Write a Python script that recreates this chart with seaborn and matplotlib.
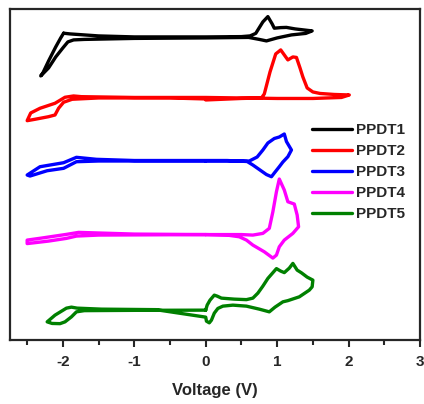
import numpy as np
import pandas as pd
import matplotlib
matplotlib.use('Agg')
import matplotlib.pyplot as plt
import seaborn as sns

# cyclic voltammograms (current in arbitrary, offset units)
v_ppdt1 = [-1.99, -1.9, -1.5, -1.0, 0.0, 0.5, 0.62, 0.7, 0.8, 0.87, 0.93, 0.96, 1.05, 1.13, 1.25, 1.49,
           1.4, 1.2, 1.0, 0.85, 0.75, 0.6, 0.0, -1.0, -1.7, -1.85, -1.93, -2.0, -2.1, -2.2, -2.31,
           -2.28, -2.2, -2.1, -2.03, -1.99]
i_ppdt1 = [306.7, 306, 304, 303, 303, 303.3, 304, 306.5, 318, 323.3, 316, 311.7, 312.3, 312.5, 311, 309,
           306.5, 305, 302, 299, 300.5, 302.5, 302, 301.5, 300.5, 300, 298, 292, 283, 272, 264,
           267, 279, 293, 302, 306.7]

v_ppdt2 = [0.0, 0.5, 0.78, 0.82, 0.9, 0.98, 1.05, 1.1, 1.15, 1.22, 1.27, 1.32, 1.36, 1.42, 1.5, 1.6, 1.8, 2.01,
           1.9, 1.5, 1.0, 0.5, 0.0, -1.0, -1.74, -1.85, -1.97, -2.11, -2.32, -2.45, -2.5,
           -2.39, -2.2, -2.11, -2.06, -1.99, -1.87, -1.5, -0.5, 0.0]
i_ppdt2 = [240, 241.5, 242, 246, 268, 286, 290, 285, 280, 283, 282.5, 272, 263, 252, 248, 246.5, 245.5, 245,
           242.5, 241.5, 241.5, 242, 242.5, 242.5, 243.3, 244, 242.7, 236.7, 231.7, 227, 219.3,
           220.7, 223.3, 225, 231.7, 237.7, 240.7, 242, 242, 241]

v_ppdt3 = [0.0, 0.5, 0.61, 0.72, 0.8, 0.87, 0.96, 1.03, 1.1, 1.13, 1.2, 1.15, 1.08, 1.03, 0.96, 0.92,
           0.85, 0.78, 0.66, 0.58, 0.3, 0.0, -1.0, -1.53, -1.81, -1.99, -2.32, -2.5,
           -2.46, -2.22, -1.99, -1.9, -1.81, -1.5, 0.0]
i_ppdt3 = [179, 179, 179, 183, 190, 197, 201.5, 203, 206, 198.5, 190, 183.3, 178, 173.3, 167, 163.3,
           165.5, 169, 175, 178.5, 179.5, 179.5, 179.5, 180.7, 182.7, 177.3, 173.3, 165,
           164, 169.3, 171.7, 175, 178.3, 179, 179]

v_ppdt4 = [0.0, 0.5, 0.66, 0.8, 0.89, 0.94, 0.99, 1.03, 1.1, 1.15, 1.24, 1.28, 1.3, 1.22, 1.1, 1.03,
           0.99, 0.94, 0.82, 0.66, 0.57, 0.47, 0.3, 0.0, -1.0, -1.78, -1.95, -2.3, -2.5,
           -2.5, -2.2, -1.95, -1.81, -1.5, 0.0]
i_ppdt4 = [105.5, 105.5, 105, 106.7, 111.7, 128.3, 148.3, 161, 150, 138.3, 136, 125, 113.3, 106.7, 100, 93.3,
           85, 82, 88.3, 95, 100, 103.3, 105, 105.5, 106, 107.7, 105.7, 102, 100,
           96.5, 99, 101.7, 104, 105, 105.5]

v_ppdt5 = [0.0, 0.02, 0.06, 0.12, 0.16, 0.22, 0.4, 0.57, 0.66, 0.73, 0.8, 0.87, 0.99, 1.05, 1.1, 1.17,
           1.22, 1.28, 1.34, 1.42, 1.5, 1.49, 1.45, 1.31, 1.15, 1.08, 0.97, 0.89, 0.75, 0.57, 0.38,
           0.24, 0.17, 0.12, 0.08, 0.05, 0.01, 0.0, -0.7, -1.46, -1.8, -1.88, -1.95, -2.11, -2.2,
           -2.22, -2.15, -2.04, -1.97, -1.88, -1.81, -1.7, -1.0, 0.0]
i_ppdt5 = [30, 35, 40, 45, 44, 42, 41, 40.5, 42, 47, 54, 61.7, 71.5, 69, 67.5, 72,
           76.7, 70, 67.3, 63, 60, 53.3, 50, 43.3, 39.5, 38.3, 33, 28.3, 31, 34, 35,
           34, 31.7, 27, 20, 17.3, 19, 23, 30.5, 31, 32, 33, 32, 25, 19.5,
           18.3, 16.7, 16.5, 18.3, 23.3, 28.3, 29.5, 29.8, 30]

labels = ['PPDT1', 'PPDT2', 'PPDT3', 'PPDT4', 'PPDT5']
colors = ['#000000', '#ff0000', '#0000ff', '#ff00ff', '#008000']

frames = []
for name, v, i in zip(labels,
                      [v_ppdt1, v_ppdt2, v_ppdt3, v_ppdt4, v_ppdt5],
                      [i_ppdt1, i_ppdt2, i_ppdt3, i_ppdt4, i_ppdt5]):
    frames.append(pd.DataFrame({'voltage': v, 'current': i, 'sample': name}))
df = pd.concat(frames, ignore_index=True)

sns.set_style('ticks')
plt.rcParams['font.family'] = ['Liberation Sans', 'DejaVu Sans']
plt.rcParams['font.weight'] = 'bold'
plt.rcParams['lines.solid_joinstyle'] = 'round'
plt.rcParams['lines.solid_capstyle'] = 'round'

fig = plt.figure(figsize=(4.24, 4.04), dpi=100)
ax = fig.add_axes([0.0236, 0.158, 0.967, 0.82])

sns.lineplot(data=df, x='voltage', y='current', hue='sample', palette=colors,
             sort=False, estimator=None, linewidth=2.4, ax=ax)

ax.set_xlim(-2.74, 3.0)
ax.set_ylim(0, 331)
ax.set_xticks([-2, -1, 0, 1, 2, 3])
ax.set_xticklabels(['-2', '-1', '0', '1', '2', '3'], fontweight='bold', fontsize=11)
ax.set_xticks(np.arange(-2.5, 3, 1.0), minor=True)
ax.set_yticks([])
ax.tick_params(axis='x', which='major', direction='out', length=5, width=1.5, pad=6)
ax.tick_params(axis='x', which='minor', direction='out', length=3.5, width=1.5)
for s in ax.spines.values():
    s.set_linewidth(1.6)
    s.set_visible(True)

ax.set_xlabel('Voltage (V)', fontweight='bold', fontsize=12, labelpad=10)
ax.set_ylabel('')

ax.legend(loc='upper left', bbox_to_anchor=(0.737, 0.655), frameon=False,
          prop={'weight': 'bold', 'size': 11}, handlelength=2.6, handletextpad=0.3,
          labelspacing=0.46, borderpad=0, borderaxespad=0)

fig.savefig('out.png', dpi=100)
